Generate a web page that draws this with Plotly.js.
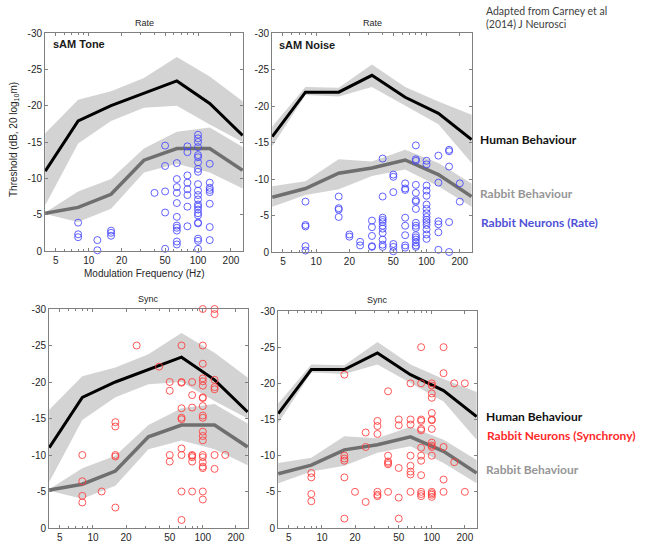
<!DOCTYPE html>
<html><head><meta charset="utf-8">
<script src="https://cdn.plot.ly/plotly-3.0.1.min.js"></script>
<style>html,body{margin:0;padding:0;background:#fff}#chart{width:650px;height:558px}</style>
</head><body><div id="chart"></div>
<script>
// ---- Behavioural data (frequency in Hz, threshold in dB) ----
const freqBeh = [4, 8, 16, 32, 64, 128, 256];

const toneHuman    = [-11.0, -17.9, -20.0, -21.7, -23.4, -20.3, -15.9];
const toneHumanHi  = [-16.2, -20.8, -22.0, -23.8, -26.7, -24.0, -20.6];
const toneHumanLo  = [-6.3, -14.8, -17.9, -19.7, -20.0, -17.4, -15.0];
const toneRabbit   = [-5.2, -6.0, -7.8, -12.5, -14.1, -14.1, -11.1];
const toneRabbitHi = [-5.3, -8.2, -9.9, -14.1, -16.4, -17.0, -14.3];
const toneRabbitLo = [-5.1, -4.0, -5.8, -10.8, -12.0, -10.8, -8.6];

const noiseHuman    = [-15.8, -21.9, -21.9, -24.2, -21.2, -19.0, -15.4];
const noiseHumanHi  = [-17.2, -22.6, -22.5, -25.7, -22.6, -20.6, -18.8];
const noiseHumanLo  = [-14.5, -21.5, -21.3, -22.6, -20.0, -17.5, -12.2];
const noiseRabbit   = [-7.5, -8.7, -10.8, -11.5, -12.6, -10.6, -7.6];
const noiseRabbitHi = [-9.0, -9.7, -12.7, -12.4, -14.0, -12.2, -9.4];
const noiseRabbitLo = [-6.2, -7.8, -8.6, -10.4, -11.3, -9.0, -6.2];

// ---- Neuron thresholds, grouped by modulation frequency ----
const toneRateFreqs = [8, 12, 16, 40, 50, 64, 80, 100, 128];
const toneRateThr = [
  [-3.9, -2.3, -1.9],
  [-1.5, -0.1],
  [-2.8, -2.5, -2.1],
  [-8.0],
  [-14.5, -11.7, -8.2, -5.3, -0.3],
  [-12.1, -9.9, -8.8, -8.0, -6.6, -4.7, -3.5, -3.2, -2.8, -1.3, -0.9],
  [-14.4, -13.6, -10.4, -9.4, -8.5, -7.7, -6.1, -3.4],
  [-16.0, -15.5, -15.0, -14.3, -13.2, -12.9, -12.2, -11.3, -10.9, -9.2, -8.3, -7.7, -7.1, -6.4, -6.1, -5.7, -5.2, -4.9, -3.9, -3.8, -1.7, -1.4, -0.3],
  [-12.0, -9.4, -8.7, -8.4, -8.1, -6.5, -3.3, -1.5]
];

const noiseRateFreqs = [8, 16, 20, 25, 32, 40, 50, 64, 80, 100, 128, 160, 200];
const noiseRateThr = [
  [-6.9, -3.7, -3.5, -0.8, -0.2],
  [-7.6, -6.0, -5.8, -4.8],
  [-2.4, -2.1],
  [-1.4, -0.9],
  [-4.3, -3.4, -2.2, -0.8, -0.7],
  [-12.8, -7.6, -4.7, -4.4, -4.1, -3.6, -3.2, -2.6, -1.7, -1.0, -0.7],
  [-10.6, -10.3, -8.2, -1.1, -0.7, -0.1],
  [-9.4, -8.7, -8.5, -4.7, -3.6, -2.3, -0.9, -0.6],
  [-14.6, -12.7, -12.5, -9.2, -8.1, -7.1, -6.9, -5.9, -4.0, -3.6, -3.3, -2.3, -2.0, -1.7, -1.3, -0.9, -0.7],
  [-12.5, -12.0, -9.1, -8.4, -7.7, -6.5, -5.9, -5.3, -4.8, -4.4, -4.1, -3.7, -3.1, -2.4, -1.8],
  [-13.2, -9.5, -4.2, -3.8, -2.7, -0.3],
  [-14.0, -13.8, -11.7, -4.1, 0],
  [-9.4, -6.9]
];

const toneSyncFreqs = [8, 12, 16, 25, 40, 50, 64, 80, 100, 128, 160];
const toneSyncThr = [
  [-10.0, -6.4, -4.4, -3.5],
  [-5.0],
  [-14.5, -13.9, -10.0, -9.8, -2.8],
  [-25.0],
  [-22.1],
  [-20.0, -18.8, -10.0, -9.1],
  [-25.0, -20.0, -19.9, -16.4, -15.1, -14.9, -10.9, -10.0, -5.0, -1.1],
  [-20.0, -18.2, -16.5, -10.0, -9.9, -9.7, -9.1, -5.0],
  [-30.0, -25.0, -22.5, -20.5, -20.1, -19.5, -17.9, -17.8, -16.7, -15.4, -15.1, -13.2, -12.6, -12.0, -10.0, -9.7, -9.0, -8.4, -8.2, -5.0, -3.9],
  [-30.0, -29.3, -20.3, -19.3, -19.0, -10.0, -8.1],
  [-10.0]
];

const noiseSyncFreqs = [8, 16, 20, 25, 32, 40, 50, 64, 80, 100, 128, 160, 200];
const noiseSyncThr = [
  [-7.6, -7.0, -4.7, -3.7],
  [-21.2, -10.0, -9.6, -9.3, -7.0, -1.3],
  [-5.0],
  [-13.2, -11.2, -3.6],
  [-14.8, -14.1, -13.0, -5.0, -4.6, -4.4],
  [-18.9, -10.0, -9.2, -9.0, -8.8, -5.0],
  [-15.0, -14.2, -8.3, -4.2, -1.3],
  [-20.0, -15.0, -14.3, -10.0, -8.6, -7.8, -7.4, -5.0],
  [-25.0, -20.0, -15.0, -14.8, -13.7, -13.5, -11.1, -10.0, -9.3, -7.3, -5.0, -4.7, -4.4],
  [-20.0, -19.7, -18.6, -18.0, -15.9, -15.0, -14.9, -13.7, -11.8, -11.4, -11.2, -10.0, -5.0, -4.8, -4.6, -4.3],
  [-25.0, -21.4, -11.2, -6.7, -5.0],
  [-20.0, -9.1],
  [-20.0, -5.0]
];

// ---- Axis ticks ----
const xTickVals = [5, 10, 20, 50, 100, 200];
const xTickText = ['5', '10', '20', '50', '100', '200'];
const xMinorVals = [4, 6, 7, 8, 9, 30, 40, 60, 70, 80, 90];
const yTickVals = [-30, -25, -20, -15, -10, -5, 0];
const yTickText = ['-30', '-25', '-20', '-15', '-10', '-5', '0'];

// ---- Helpers ----
const W = 650, H = 558;
const PX = p => p / W, PY = p => 1 - p / H;
const BAND = '#d3d3d3', HUMAN = '#000000', RABBIT = '#6f6f6f';
const BLUE = 'rgba(70,70,255,0.85)', RED = 'rgba(255,60,60,0.85)';

function band(hi, lo, xa, ya) {
  return {x: freqBeh.concat(freqBeh.slice().reverse()), y: hi.concat(lo.slice().reverse()),
    xaxis: xa, yaxis: ya, type: 'scatter', mode: 'lines', fill: 'toself', fillcolor: BAND,
    line: {width: 0, color: BAND}, hoverinfo: 'skip', showlegend: false};
}
function line(y, color, w, xa, ya) {
  return {x: freqBeh, y: y, xaxis: xa, yaxis: ya, type: 'scatter', mode: 'lines',
    line: {color: color, width: w}, showlegend: false};
}
function dots(freqs, groups, color, xa, ya) {
  const x = [], y = [];
  freqs.forEach((f, i) => groups[i].forEach(v => { x.push(f); y.push(v); }));
  return {x: x, y: y, xaxis: xa, yaxis: ya, type: 'scatter', mode: 'markers',
    marker: {symbol: 'circle-open', size: 7, color: color, line: {width: 1, color: color}},
    cliponaxis: false, showlegend: false};
}

const traces = [];
const panels = [
  {xa: 'x', ya: 'y', h: toneHuman, hh: toneHumanHi, hl: toneHumanLo, r: toneRabbit, rh: toneRabbitHi, rl: toneRabbitLo, f: toneRateFreqs, t: toneRateThr, c: BLUE},
  {xa: 'x2', ya: 'y2', h: noiseHuman, hh: noiseHumanHi, hl: noiseHumanLo, r: noiseRabbit, rh: noiseRabbitHi, rl: noiseRabbitLo, f: noiseRateFreqs, t: noiseRateThr, c: BLUE},
  {xa: 'x3', ya: 'y3', h: toneHuman, hh: toneHumanHi, hl: toneHumanLo, r: toneRabbit, rh: toneRabbitHi, rl: toneRabbitLo, f: toneSyncFreqs, t: toneSyncThr, c: RED},
  {xa: 'x4', ya: 'y4', h: noiseHuman, hh: noiseHumanHi, hl: noiseHumanLo, r: noiseRabbit, rh: noiseRabbitHi, rl: noiseRabbitLo, f: noiseSyncFreqs, t: noiseSyncThr, c: RED}
];
panels.forEach(p => {
  traces.push(band(p.hh, p.hl, p.xa, p.ya));
  traces.push(band(p.rh, p.rl, p.xa, p.ya));
  traces.push(line(p.h, HUMAN, 3, p.xa, p.ya));
  traces.push(line(p.r, RABBIT, 3.5, p.xa, p.ya));
  traces.push(dots(p.f, p.t, p.c, p.xa, p.ya));
});

const tickFont = {family: 'Liberation Sans, Arial, sans-serif', size: 10, color: '#262626'};
function xax(x0, x1, anchor) {
  return {type: 'log', range: [Math.log10(3.98), Math.log10(258)], domain: [PX(x0), PX(x1)], anchor: anchor,
    tickmode: 'array', tickvals: xTickVals, ticktext: xTickText, ticks: 'inside', ticklen: 3,
    tickcolor: '#808080', showline: true, linecolor: '#808080', linewidth: 1, mirror: 'ticks',
    minor: {tickmode: 'array', tickvals: xMinorVals, ticks: 'inside', ticklen: 2, tickcolor: '#808080', showgrid: false},
    showgrid: false, zeroline: false, tickfont: tickFont, fixedrange: true};
}
function yax(y0, y1, anchor) {
  return {range: [0, -30], domain: [PY(y1), PY(y0)], anchor: anchor,
    tickmode: 'array', tickvals: yTickVals, ticktext: yTickText, ticks: 'inside', ticklen: 3,
    tickcolor: '#808080', showline: true, linecolor: '#808080', linewidth: 1, mirror: 'ticks',
    showgrid: false, zeroline: false, tickfont: tickFont, fixedrange: true};
}

const sans = 'Liberation Sans, Arial, sans-serif';
const cal = 'Lato, Carlito, Calibri, sans-serif';
function ann(text, x, y, opts) {
  return Object.assign({text: text, x: PX(x), y: PY(y), xref: 'paper', yref: 'paper', showarrow: false,
    xanchor: 'center', yanchor: 'middle', font: {family: sans, size: 10, color: '#262626'}}, opts || {});
}

const annotations = [
  ann('Rate', 144, 23, {font: {family: sans, size: 9, color: '#262626'}}),
  ann('Rate', 372, 23, {font: {family: sans, size: 9, color: '#262626'}}),
  ann('Sync', 148, 299, {font: {family: sans, size: 9, color: '#262626'}}),
  ann('Sync', 377, 300, {font: {family: sans, size: 9, color: '#262626'}}),
  ann('<b>sAM Tone</b>', 51, 44, {xanchor: 'left', font: {family: sans, size: 11, color: '#1a1a1a'}}),
  ann('<b>sAM Noise</b>', 277, 45, {xanchor: 'left', font: {family: sans, size: 11, color: '#1a1a1a'}}),
  ann('Modulation Frequency (Hz)', 144, 273, {font: {family: sans, size: 10, color: '#262626'}}),
  ann('Threshold (dB, 20 log<sub>10</sub>m)', 14, 140, {textangle: -90, font: {family: sans, size: 10, color: '#262626'}}),
  ann('Adapted from Carney et al', 484, 11, {xanchor: 'left', font: {family: cal, size: 10.5, color: '#404040'}}),
  ann('(2014) J Neurosci', 484, 24, {xanchor: 'left', font: {family: cal, size: 10.5, color: '#404040'}}),
  ann('<b>Human Behaviour</b>', 478, 140, {xanchor: 'left', font: {family: cal, size: 12, color: '#111111'}}),
  ann('<b>Rabbit Behaviour</b>', 478, 193, {xanchor: 'left', font: {family: cal, size: 12, color: '#969696'}}),
  ann('<b>Rabbit Neurons (Rate)</b>', 479, 223, {xanchor: 'left', font: {family: cal, size: 12, color: '#5050d8'}}),
  ann('<b>Human Behaviour</b>', 484, 416, {xanchor: 'left', font: {family: cal, size: 12, color: '#111111'}}),
  ann('<b>Rabbit Neurons (Synchrony)</b>', 485, 435, {xanchor: 'left', font: {family: cal, size: 12, color: '#ff2a2a'}}),
  ann('<b>Rabbit Behaviour</b>', 484, 469, {xanchor: 'left', font: {family: cal, size: 12, color: '#969696'}})
];

const layout = {
  width: W, height: H, margin: {l: 0, r: 0, t: 0, b: 0},
  paper_bgcolor: '#ffffff', plot_bgcolor: '#ffffff', showlegend: false,
  xaxis: xax(45, 243, 'y'), yaxis: yax(33, 251, 'x'),
  xaxis2: xax(272, 472, 'y2'), yaxis2: yax(33, 252, 'x2'),
  xaxis3: xax(49, 248, 'y3'), yaxis3: yax(309, 528, 'x3'),
  xaxis4: xax(278, 477, 'y4'), yaxis4: yax(311, 528, 'x4'),
  annotations: annotations
};

Plotly.newPlot('chart', traces, layout, {staticPlot: true, displayModeBar: false});
</script>
</body></html>
